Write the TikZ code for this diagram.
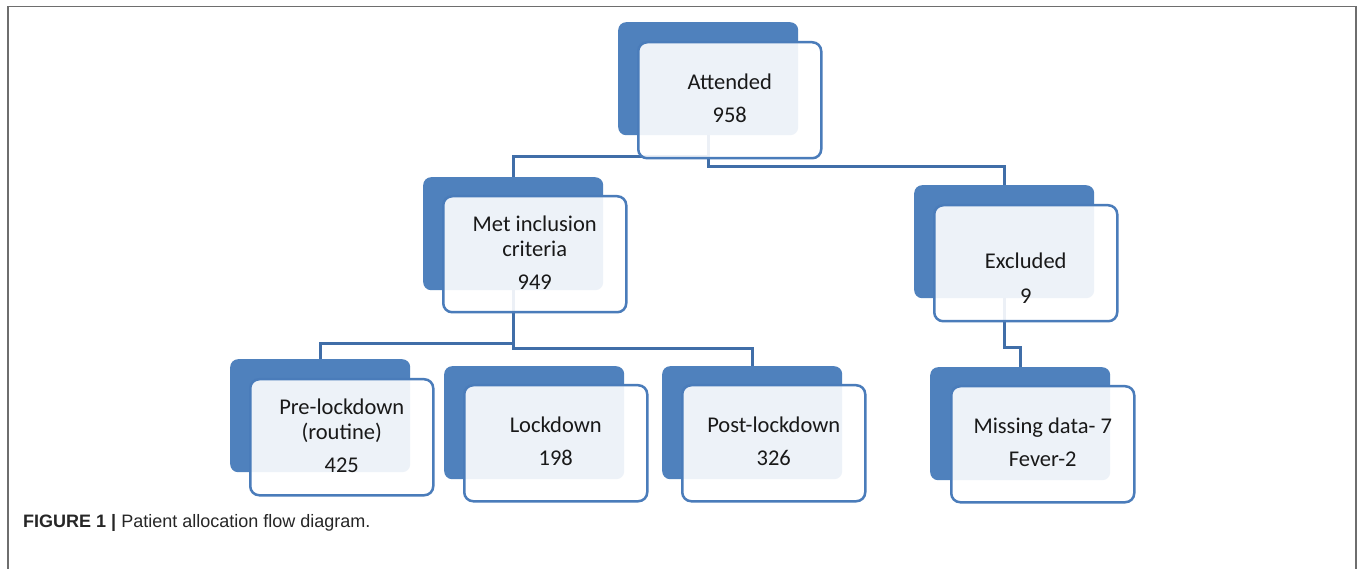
\documentclass[tikz,border=0pt]{standalone}
\usepackage{fontspec}
\setmainfont{Carlito}
\newfontfamily\capfont{Liberation Sans}
\definecolor{backblue}{RGB}{79,129,189}
\definecolor{edgeblue}{RGB}{74,124,186}
\definecolor{connblue}{RGB}{64,110,168}
\definecolor{framegray}{RGB}{110,110,110}
\tikzset{
  backbox/.style={fill=backblue, rounded corners=8pt, anchor=north west,
    minimum width=180pt, minimum height=113pt, inner sep=0pt},
  frontbox/.style={fill=white, fill opacity=0.9, draw=edgeblue, draw opacity=1,
    line width=2.5pt, rounded corners=9pt, anchor=north west,
    minimum width=183pt, minimum height=116pt, inner sep=0pt},
  txt/.style={font=\fontsize{22.5}{25}\selectfont, align=center, text=black!90, inner sep=0pt},
  conn/.style={draw=connblue, line width=2.6pt},
  frameline/.style={draw=framegray, line width=1.4pt}
}
\begin{document}
\begin{tikzpicture}[x=1pt, y=-1pt]
\useasboundingbox (0,0) rectangle (1358,569);
\fill[white] (0,0) rectangle (1358,569);
\draw[frameline] (8,569) -- (8,6.5) -- (1356,6.5) -- (1356,569);
% back boxes
\node[backbox] (bA) at (618,22) {};
\node[backbox] (bM) at (423,177) {};
\node[backbox] (bE) at (914,185) {};
\node[backbox] (bP) at (230,359) {};
\node[backbox] (bL) at (444,366) {};
\node[backbox] (bO) at (662,366) {};
\node[backbox] (bX) at (930,367) {};
% connectors
\draw[conn] (bA.south) -- ++(0,21) -| (bM.north);
\draw[conn] (bA.south) -- ++(0,31) -| (bE.north);
\draw[conn] (bM.south) -- ++(0,53) -| (bP.north);
\draw[conn] (bM.south) -- ++(0,58) -| (bO.north);
\draw[conn] (bE.south) -- ++(0,49) -| (bX.north);
% front boxes
\node[frontbox] (fA) at (637,41) {};
\node[frontbox] (fM) at (442,195) {};
\node[frontbox] (fE) at (933,204) {};
\node[frontbox] (fP) at (249,378) {};
\node[frontbox] (fL) at (463,384) {};
\node[frontbox] (fO) at (681,384) {};
\node[frontbox] (fX) at (950,385) {};
% texts
\node[txt] (tA) at ([yshift=2pt]fA.center) {Attended\\[8pt]958};
\node[txt] (tM) at ([yshift=1.5pt]fM.center) {Met inclusion\\criteria\\[8pt]949};
\node[txt] (tE) at ([yshift=-15pt]fE.center) {Excluded\\[10pt]9};
\node[txt] (tP) at ([yshift=1.5pt]fP.center) {Pre-lockdown\\(routine)\\[8pt]425};
\node[txt] (tL) at ([yshift=1.5pt]fL.center) {Lockdown\\[8pt]198};
\node[txt] (tO) at ([yshift=1.5pt]fO.center) {Post-lockdown\\[8pt]326};
\node[txt] (tX) at ([yshift=2pt]fX.center) {Missing data- 7\\[8pt]Fever-2};
% caption
\node[anchor=base west, inner sep=0pt, text=black!85, font=\capfont\fontsize{18}{21}\selectfont] (cap) at (23,527)
  {\textbf{FIGURE 1 |} Patient allocation flow diagram.};
\end{tikzpicture}
\end{document}
